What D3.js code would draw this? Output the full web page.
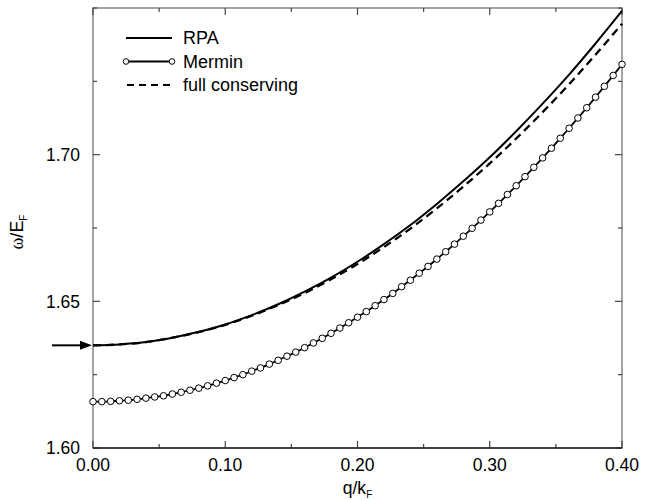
<!DOCTYPE html>
<html>
<head>
<meta charset="utf-8">
<script src="https://cdn.jsdelivr.net/npm/d3@7"></script>
<style>
  body { margin: 0; background: #fff; }
  svg { font-family: "Liberation Sans", Arial, sans-serif; }
</style>
</head>
<body>
<div id="container"></div>
<script>
// values
const qGrid = [0.00, 0.02, 0.04, 0.06, 0.08, 0.10, 0.12, 0.14, 0.16, 0.18, 0.20,
               0.22, 0.24, 0.26, 0.28, 0.30, 0.32, 0.34, 0.36, 0.38, 0.40];
const rpa = [1.6350, 1.6353, 1.6361, 1.6376, 1.6396, 1.6421, 1.6453, 1.6490, 1.6533, 1.6581, 1.6635,
             1.6695, 1.6760, 1.6832, 1.6909, 1.6991, 1.7080, 1.7174, 1.7273, 1.7379, 1.7490];
const fullConserving = [1.6350, 1.6353, 1.6361, 1.6376, 1.6395, 1.6420, 1.6451, 1.6487, 1.6528, 1.6575, 1.6627,
                        1.6685, 1.6748, 1.6817, 1.6891, 1.6970, 1.7055, 1.7145, 1.7240, 1.7341, 1.7446];
// Mermin is sampled at 61 points, q = 0 ... 0.40
const merminStep = 0.4 / 60;
const mermin = [1.6158, 1.6158, 1.6159, 1.6161, 1.6163, 1.6166, 1.6170, 1.6174, 1.6178, 1.6184,
                1.6190, 1.6197, 1.6204, 1.6212, 1.6221, 1.6230, 1.6240, 1.6250, 1.6262, 1.6273,
                1.6286, 1.6299, 1.6313, 1.6327, 1.6342, 1.6358, 1.6374, 1.6391, 1.6409, 1.6427,
                1.6446, 1.6465, 1.6485, 1.6506, 1.6527, 1.6550, 1.6572, 1.6596, 1.6619, 1.6644,
                1.6669, 1.6695, 1.6722, 1.6749, 1.6777, 1.6805, 1.6834, 1.6864, 1.6894, 1.6925,
                1.6957, 1.6989, 1.7022, 1.7056, 1.7090, 1.7125, 1.7160, 1.7196, 1.7233, 1.7270,
                1.7308];
const xTicks = [0.0, 0.1, 0.2, 0.3, 0.4];
const yTicks = [1.60, 1.65, 1.70];
const plasmonAtZero = 1.635; // arrow on the left axis
const legendItems = ["RPA", "Mermin", "full conserving"];

const width = 663;
const height = 500;
const margin = { left: 93, right: 41, top: 8, bottom: 52 };

const svg = d3.select("#container").append("svg")
    .attr("width", width)
    .attr("height", height);

const x = d3.scaleLinear().domain([0, 0.4]).range([margin.left, width - margin.right]);
const y = d3.scaleLinear().domain([1.60, 1.75]).range([height - margin.bottom, margin.top]);

// frame
svg.append("rect")
    .attr("x", x(0)).attr("y", y(1.75))
    .attr("width", x(0.4) - x(0)).attr("height", y(1.60) - y(1.75))
    .attr("fill", "none").attr("stroke", "#666").attr("stroke-width", 1.2);

// inward ticks on all four sides
const xMinor = d3.range(0, 0.4001, 0.05);
const yMinor = d3.range(1.60, 1.7501, 0.025);
function isMajor(v, list) { return list.some(t => Math.abs(t - v) < 1e-6); }

const ticks = svg.append("g").attr("stroke", "#444").attr("stroke-width", 1.2);
xMinor.forEach(v => {
    const len = isMajor(v, xTicks) ? 7 : 4;
    ticks.append("line").attr("x1", x(v)).attr("x2", x(v)).attr("y1", y(1.60)).attr("y2", y(1.60) - len);
    ticks.append("line").attr("x1", x(v)).attr("x2", x(v)).attr("y1", y(1.75)).attr("y2", y(1.75) + len);
});
yMinor.forEach(v => {
    const len = isMajor(v, yTicks) ? 7 : 4;
    ticks.append("line").attr("y1", y(v)).attr("y2", y(v)).attr("x1", x(0)).attr("x2", x(0) + len);
    ticks.append("line").attr("y1", y(v)).attr("y2", y(v)).attr("x1", x(0.4)).attr("x2", x(0.4) - len);
});
// darker bottom axis
svg.append("line")
    .attr("x1", x(0)).attr("x2", x(0.4)).attr("y1", y(1.60)).attr("y2", y(1.60))
    .attr("stroke", "#222").attr("stroke-width", 1.5);

// tick labels
svg.append("g").selectAll("text").data(xTicks).join("text")
    .attr("x", d => x(d)).attr("y", y(1.60) + 23)
    .attr("text-anchor", "middle").attr("font-size", 17.5)
    .text(d => d3.format(".2f")(d));
svg.append("g").selectAll("text").data(yTicks).join("text")
    .attr("x", x(0) - 13).attr("y", d => y(d)).attr("dy", "0.36em")
    .attr("text-anchor", "end").attr("font-size", 17.5)
    .text(d => d3.format(".2f")(d));

// axis titles
const xt = svg.append("text").attr("x", (x(0) + x(0.4)) / 2).attr("y", 494)
    .attr("text-anchor", "middle").attr("font-size", 17.5);
xt.append("tspan").text("q/k");
xt.append("tspan").attr("font-size", 10).attr("dy", 4).text("F");

const yt = svg.append("text").attr("transform", "translate(23,232) rotate(-90)")
    .attr("text-anchor", "middle").attr("font-size", 18);
yt.append("tspan").attr("font-family", "Liberation Serif, serif").text("ω");
yt.append("tspan").text("/E");
yt.append("tspan").attr("font-size", 10).attr("dy", 4).text("F");

// curves
const line = d3.line().x(d => x(d[0])).y(d => y(d[1])).curve(d3.curveMonotoneX);
const rpaPts = qGrid.map((q, i) => [q, rpa[i]]);
const fullPts = qGrid.map((q, i) => [q, fullConserving[i]]);
const merminPts = mermin.map((v, i) => [i * merminStep, v]);

svg.append("path").attr("d", line(rpaPts))
    .attr("fill", "none").attr("stroke", "#000").attr("stroke-width", 2);
svg.append("path").attr("d", line(fullPts))
    .attr("fill", "none").attr("stroke", "#000").attr("stroke-width", 2.3)
    .attr("stroke-dasharray", "8,5");
svg.append("path").attr("d", line(merminPts))
    .attr("fill", "none").attr("stroke", "#000").attr("stroke-width", 1.8);
svg.append("g").selectAll("circle").data(merminPts).join("circle")
    .attr("cx", d => x(d[0])).attr("cy", d => y(d[1])).attr("r", 3.3)
    .attr("fill", "#fff").attr("stroke", "#000").attr("stroke-width", 1);

// arrow marking the q = 0 plasmon energy
const ay = y(plasmonAtZero);
svg.append("line").attr("x1", x(0) - 41).attr("x2", x(0) - 10).attr("y1", ay).attr("y2", ay)
    .attr("stroke", "#000").attr("stroke-width", 2);
svg.append("path")
    .attr("d", `M${x(0) - 1},${ay} L${x(0) - 13},${ay - 4.5} L${x(0) - 13},${ay + 4.5} Z`)
    .attr("fill", "#000");

// legend
const legend = svg.append("g");
legendItems.forEach((name, i) => {
    const ly = 38 + i * 23.5;
    const l = legend.append("line").attr("x1", 126).attr("x2", 172).attr("y1", ly).attr("y2", ly)
        .attr("stroke", "#000").attr("stroke-width", i === 1 ? 2.2 : 2);
    if (i === 2) l.attr("stroke-dasharray", "7,5").attr("x1", 127);
    if (i === 1) {
        [126, 172].forEach(cx => legend.append("circle").attr("cx", cx).attr("cy", ly).attr("r", 2.8)
            .attr("fill", "#fff").attr("stroke", "#000").attr("stroke-width", 1));
    }
    legend.append("text").attr("x", 183).attr("y", ly).attr("dy", "0.36em")
        .attr("font-size", 18).text(name);
});
</script>
</body>
</html>
